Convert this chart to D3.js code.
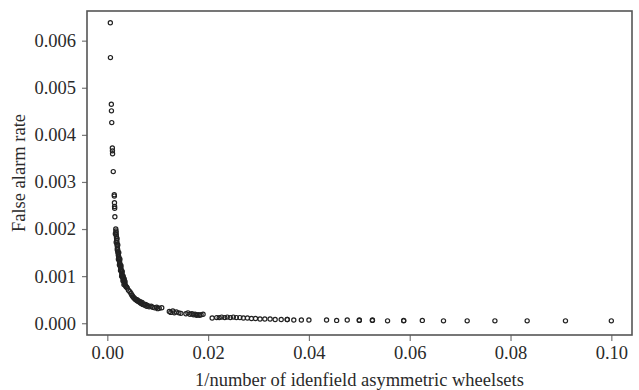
<!DOCTYPE html>
<html><head><meta charset="utf-8">
<script src="https://cdn.jsdelivr.net/npm/d3@7"></script>
<style>body{margin:0;background:#fff}svg{display:block}</style>
</head><body>
<script>
// x = 1/number of identified asymmetric wheelsets, y = false alarm rate
const xValues = [
0.00060,0.00062,0.00080,0.00082,0.00088,0.00100,0.00102,0.00104,0.00118,0.00138,0.00140,0.00142,0.00144,0.00146,0.00150,
0.00168,0.00172,0.00174,0.00178,0.00180,0.00184,0.00186,0.00190,0.00194,0.00196,0.00200,0.00206,0.00210,0.00214,0.00218,
0.00222,0.00226,0.00232,0.00236,0.00242,0.00246,0.00250,0.00256,0.00260,0.00266,0.00270,0.00276,0.00282,0.00288,0.00294,
0.00300,0.00306,0.00312,0.00318,0.00324,0.00330,0.00340,0.00348,0.00360,
0.00192,0.00208,0.00228,0.00250,0.00272,0.00296,0.00316,0.00336,0.00352,
0.00160,0.00176,0.00198,0.00220,0.00240,0.00262,0.00284,0.00310,0.00330,0.00370,
0.00380,0.00396,0.00420,0.00448,0.00470,0.00486,0.00500,0.00516,0.00530,0.00545,0.00556,0.00570,0.00582,0.00590,0.00600,
0.00610,0.00622,0.00634,0.00646,0.00660,0.00676,0.00690,0.00704,0.00720,0.00740,0.00760,0.00780,0.00800,
0.00830,0.00870,0.00900,0.00940,0.00980,0.01000,0.01030,0.01080,
0.01230,0.01260,0.01300,0.01330,0.01370,0.01420,0.01460,0.01560,0.01600,0.01640,0.01680,0.01710,0.01740,0.01770,0.01800,0.01830,0.01860,0.01900,
0.02080,0.02170,0.02220,0.02270,0.02330,0.02380,0.02440,0.02500,0.02560,0.02630,0.02700,0.02780,0.02860,0.02940,0.03030,0.03125,0.03230,0.03330,0.03450,
0.03570,0.03570,0.03700,0.03850,0.04000,0.04350,0.04550,0.04760,0.05000,0.05000,0.05260,0.05260,0.05560,0.05880,0.05880,0.06250,0.06670,0.07140,0.07690,0.08330,0.09090,0.10000
];
const yValues = [
0.00638,0.00564,0.00465,0.00451,0.00426,0.00372,0.00366,0.00360,0.00322,0.00273,0.00270,0.00256,0.00248,0.00244,0.00226,
0.00200,0.00196,0.00193,0.00188,0.00184,0.00180,0.00176,0.00172,0.00168,0.00165,0.00160,0.00156,0.00152,0.00150,0.00146,
0.00143,0.00140,0.00138,0.00134,0.00131,0.00128,0.00125,0.00122,0.00120,0.00118,0.00115,0.00112,0.00110,0.00106,0.00103,
0.00100,0.00098,0.00096,0.00094,0.00092,0.00089,0.00086,0.00083,0.00080,
0.00180,0.00166,0.00150,0.00136,0.00122,0.00110,0.00100,0.00094,0.00088,
0.00190,0.00172,0.00156,0.00136,0.00124,0.00112,0.00100,0.00090,0.00082,0.00078,
0.00077,0.00075,0.00070,0.00067,0.00063,0.00060,0.00058,0.00055,0.00054,0.00052,0.00051,0.00050,0.00049,0.00050,0.00047,
0.00048,0.00046,0.00045,0.00046,0.00043,0.00042,0.00044,0.00040,0.00041,0.00038,0.00040,0.00036,0.00038,
0.00035,0.00036,0.00034,0.00033,0.00034,0.00031,0.00032,0.00033,
0.00025,0.00023,0.00026,0.00022,0.00024,0.00022,0.00021,0.00020,0.00022,0.00019,0.00020,0.00018,0.00019,0.00017,0.00018,0.00017,0.00018,0.00019,
0.00011,0.00012,0.00012,0.00013,0.00012,0.00013,0.00012,0.00013,0.00012,0.00012,0.00011,0.00011,0.00010,0.00010,0.00009,0.00009,0.00009,0.00008,0.00008,
0.00008,0.00008,0.00007,0.00007,0.00007,0.00007,0.00006,0.00007,0.00006,0.00007,0.00006,0.00007,0.00005,0.00005,0.00006,0.00006,0.00005,0.00005,0.00005,0.00005,0.00005,0.00005
];
const xTicks = [0, 0.02, 0.04, 0.06, 0.08, 0.10];
const yTicks = [0, 0.001, 0.002, 0.003, 0.004, 0.005, 0.006];
const xTitle = "1/number of idenfield asymmetric wheelsets";
const yTitle = "False alarm rate";

const W = 639, H = 390;
const m = {left: 87, right: 632, top: 11, bottom: 335};
const font = "'Liberation Serif', 'Times New Roman', serif";

const svg = d3.select("body").append("svg").attr("width", W).attr("height", H);

const x = d3.scaleLinear().domain([-0.00403, 0.1041]).range([m.left, m.right]);
const y = d3.scaleLinear().domain([-0.00025, 0.00663]).range([m.bottom, m.top]);

const xAxis = svg.append("g").attr("transform", `translate(0,${m.bottom})`)
  .call(d3.axisBottom(x).tickValues(xTicks).tickFormat(d3.format(".2f")).tickSize(6).tickPadding(5));
const yAxis = svg.append("g").attr("transform", `translate(${m.left},0)`)
  .call(d3.axisLeft(y).tickValues(yTicks).tickFormat(d3.format(".3f")).tickSize(5).tickPadding(6));
[xAxis, yAxis].forEach(g => {
  g.select(".domain").remove();
  g.selectAll(".tick line").attr("stroke", "#777").attr("stroke-width", 1.2);
  g.selectAll(".tick text").attr("font-family", font).attr("font-size", 18.5).attr("fill", "#2a2a2a");
});

svg.append("rect").attr("x", m.left).attr("y", m.top)
  .attr("width", m.right - m.left).attr("height", m.bottom - m.top)
  .attr("fill", "none").attr("stroke", "#555").attr("stroke-width", 1.6);

const pts = xValues.map((v, i) => ({x: v, y: yValues[i]}));
svg.append("g").selectAll("circle").data(pts).join("circle")
  .attr("cx", d => x(d.x)).attr("cy", d => y(d.y)).attr("r", 2.1)
  .attr("fill", "none").attr("stroke", "#222").attr("stroke-width", 1.2);

svg.append("text").attr("x", (m.left + m.right) / 2).attr("y", 386)
  .attr("text-anchor", "middle").attr("font-family", font).attr("font-size", 18.5).attr("fill", "#2a2a2a")
  .text(xTitle);
svg.append("text").attr("transform", `translate(25,${(m.top + m.bottom) / 2}) rotate(-90)`)
  .attr("text-anchor", "middle").attr("font-family", font).attr("font-size", 18.5).attr("fill", "#2a2a2a")
  .text(yTitle);
</script>
</body></html>
